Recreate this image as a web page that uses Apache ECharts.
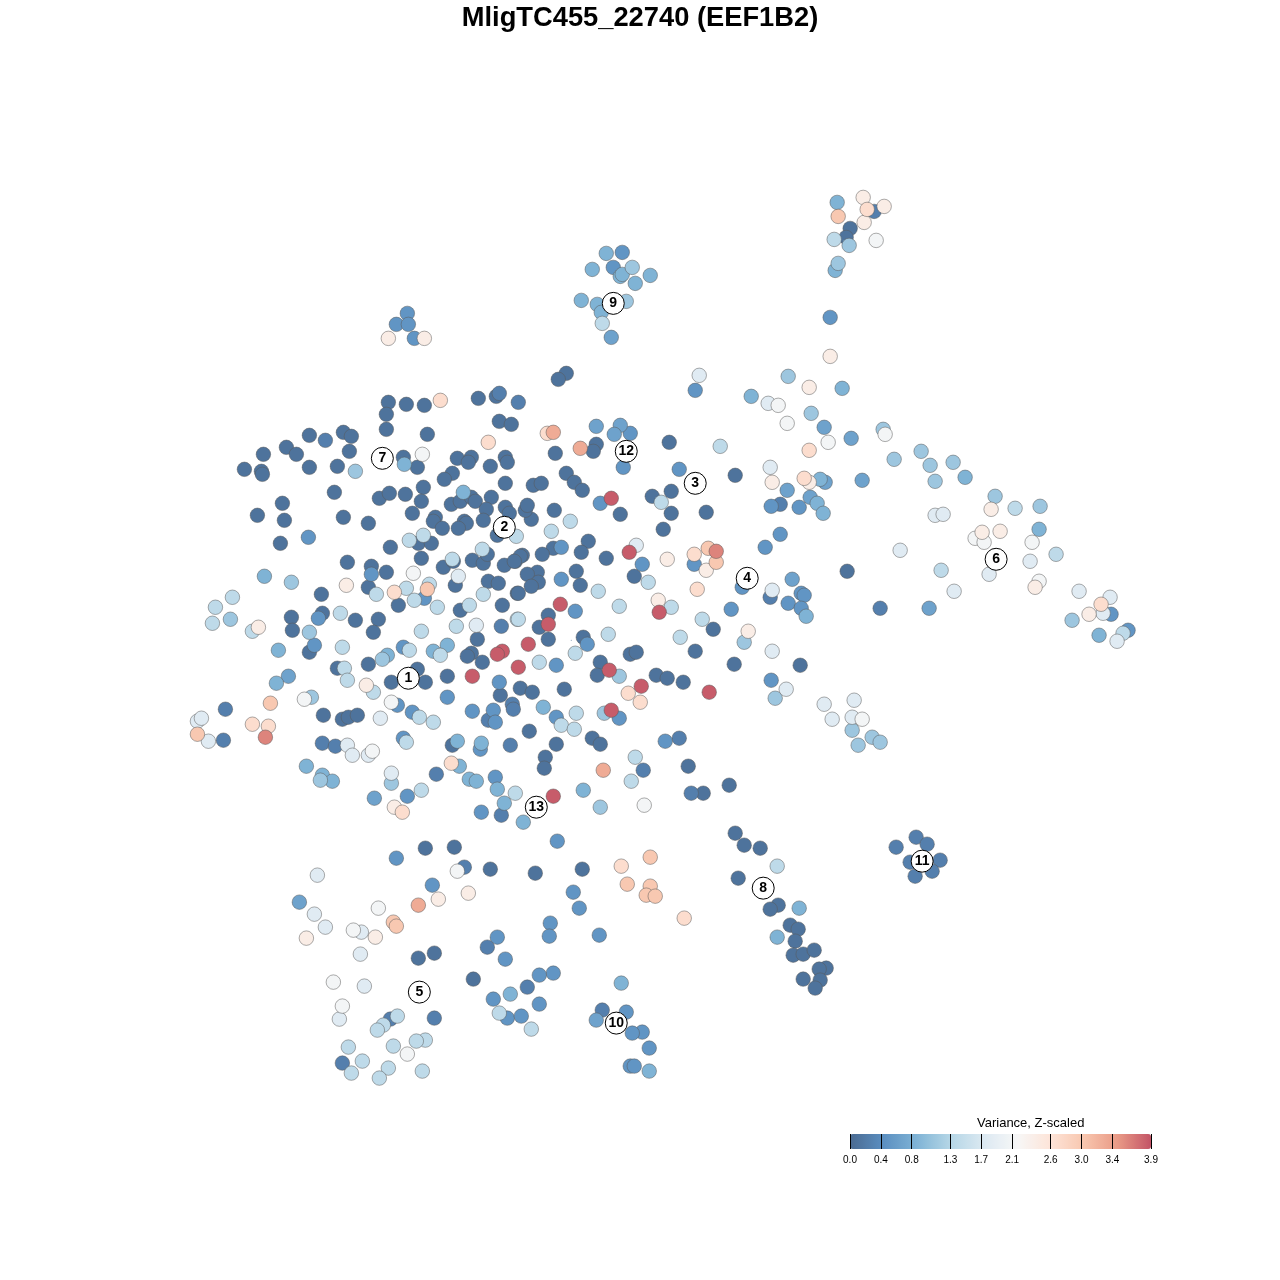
<!DOCTYPE html>
<html><head><meta charset="utf-8">
<style>html,body{margin:0;padding:0;background:#fff}#c{width:1280px;height:1280px}</style>
<script src="https://cdn.jsdelivr.net/npm/echarts@6/dist/echarts.min.js"></script>
</head><body><div id="c"></div>
<script>
const titleText = "MligTC455_22740 (EEF1B2)";
const legendTitle = "Variance, Z-scaled";
const legendTicks = [0, 0.4, 0.8, 1.3, 1.7, 2.1, 2.6, 3.0, 3.4, 3.9];
const rampColors = ['#4a6a91','#5b8fc1','#80b4d6','#b5d6e6','#dce9f2','#f7f7f7','#fde4d8','#f8c6ae','#e99a86','#c35466'];
// cells, flat x,y pairs per variance level
const level010 = [388,402,406,404,424,405,478,398,386,414,386,429,427,434,499,421,511,424,309,435,343,432,351,436,286,447,296,454,263,454,244,469,261,471,262,474,309,467,337,466,349,451,403,457,417,467,457,458,471,457,468,462,490,466,505,457,507,462,452,473,444,479,505,483,334,492,282,503,257,515,284,520,343,517,368,523,280,543,379,498,389,493,405,494,423,487,421,501,412,513,435,517,433,521,442,528,451,504,460,501,471,497,475,501,491,497,486,509,483,520,505,507,509,513,464,521,466,523,458,528,497,535,390,547,421,558,418,543,431,543,347,562,371,566,386,572,368,587,443,567,453,561,472,560,483,563,487,554,504,565,515,561,522,555,488,581,498,583,455,585,398,605,460,610,502,605,517,593,321,594,322,613,291,617,292,630,355,620,378,619,373,632,477,639,471,653,467,656,482,662,309,652,337,668,368,664,417,669,391,682,425,682,447,676,496,396,555,453,596,444,593,451,669,442,735,475,533,485,541,483,566,473,574,482,582,490,652,496,671,491,620,514,671,513,706,512,554,510,531,519,525,510,527,505,663,529,588,541,581,552,553,548,542,554,606,558,520,556,514,561,634,576,713,629,695,651,734,664,576,571,580,585,537,572,527,574,538,582,531,586,518,593,548,615,539,627,548,639,583,637,630,654,636,652,600,662,597,675,656,675,667,678,683,682,500,695,520,688,532,692,564,689,323,715,342,719,348,717,357,715,529,731,556,744,545,757,544,768,592,738,600,744,452,745,688,766,703,793,729,785,800,665,735,833,744,845,760,848,738,878,778,905,770,909,566,373,558,379,850,228,846,237,847,571,425,848,454,847,490,869,535,873,582,869,434,953,418,958,473,979,790,925,798,929,795,941,793,955,803,954,814,950,826,968,819,969,803,979,820,980,815,988];
const level025 = [325,440,499,393,518,402,501,626,436,774,322,743,335,746,510,745,488,720,512,704,513,709,225,709,223,740,691,793,679,738,643,770,874,211,780,504,770,597,880,608,464,867,487,947,527,987,602,1010,434,1018,390,1019,342,1063,916,837,927,844,896,847,940,860,910,862,932,871,915,876,501,815];
const level050 = [308,537,371,574,318,618,314,645,403,647,424,598,623,467,600,503,561,547,694,564,642,564,561,579,575,611,587,644,556,665,499,682,447,697,397,705,412,712,472,711,493,710,495,722,556,717,619,718,403,738,480,749,665,741,495,777,407,796,481,812,771,680,742,587,731,609,695,390,830,317,407,313,396,324,408,324,414,338,771,506,799,507,780,534,765,547,788,603,801,593,804,595,801,608,1111,614,1128,630,396,858,557,841,432,885,573,892,579,908,550,923,549,936,497,937,505,959,553,973,539,975,493,999,539,1004,507,1018,521,1016,626,1012,599,935,642,1032,632,1033,649,1048,630,1066,634,1066,622,252,613,267,630,433,679,469];
const level065 = [596,426,620,425,614,434,288,676,374,798,611,337,787,490,810,497,851,438,824,427,825,482,862,480,792,579,929,608,299,902,596,1020];
const level085 = [463,492,404,464,264,576,278,650,276,683,387,655,433,651,447,645,543,707,306,766,322,775,332,781,469,779,476,781,459,766,457,741,481,743,497,789,583,790,504,803,523,822,837,202,606,253,592,269,620,276,622,274,635,283,650,275,581,300,597,304,601,312,835,270,842,388,751,396,817,503,823,513,820,479,806,616,965,477,1039,529,1099,635,621,983,649,1071,777,937,799,908,510,994];
const level110 = [355,471,291,582,230,619,309,632,382,659,311,697,320,780,391,783,619,676,744,642,775,698,852,730,872,737,880,742,858,745,604,713,600,807,632,267,626,301,849,245,838,263,788,376,811,413,883,429,894,459,921,451,930,465,953,462,935,481,1040,506,995,496,1072,620];
const level140 = [409,540,423,535,482,549,452,559,516,536,232,597,215,607,212,623,252,631,340,613,342,647,376,594,406,588,429,584,414,600,437,607,469,605,483,594,421,631,456,626,517,619,409,650,440,655,344,668,347,680,373,692,419,717,433,722,406,742,561,725,574,729,576,713,539,662,575,653,518,619,608,634,570,521,551,531,661,502,720,446,598,591,648,582,671,607,619,606,680,637,702,619,635,757,631,781,421,790,515,793,777,866,602,323,834,239,1015,508,1056,554,941,570,499,1013,531,1029,397,1016,383,1025,377,1030,425,1040,416,1041,348,1047,393,1046,362,1061,351,1073,388,1068,379,1078,422,1071,1123,633];
const level180 = [197,721,201,718,208,741,380,718,347,745,352,755,368,755,391,773,458,576,476,625,636,545,699,375,768,403,770,467,772,651,786,689,824,704,854,700,832,719,852,717,772,590,900,550,935,515,943,514,1030,561,989,574,954,591,1079,591,1110,597,1103,613,1117,641,314,914,325,927,361,932,360,954,364,986,339,1019,317,875];
const level210 = [422,454,413,573,304,699,391,702,372,751,644,805,778,405,787,423,828,442,885,434,862,719,975,538,984,542,1032,542,1039,581,457,871,378,908,353,930,333,982,342,1006,407,1054,876,240];
const level240 = [346,585,258,627,366,685,394,807,667,559,706,570,658,600,748,631,830,356,863,197,884,206,864,222,388,338,424,338,809,387,772,482,809,482,991,509,1000,531,982,532,1035,587,1089,614,468,893,438,899,306,938,375,937];
const level270 = [440,400,488,442,394,592,451,763,402,812,547,433,694,554,697,589,628,693,640,702,252,724,268,726,621,866,684,918,867,209,809,450,804,478,1101,604];
const level300 = [427,589,197,734,708,548,716,562,270,703,650,857,627,884,650,886,646,895,655,896,838,216,393,922,396,926];
const level330 = [553,432,580,448,603,770,418,905];
const level360 = [716,551,265,737];
const level385 = [472,676,502,651,497,654,518,667,611,498,629,552,659,612,560,604,548,624,528,644,609,670,641,686,709,692,611,710,553,796];
const clusterIds = ['1','2','3','4','5','6','7','8','9','10','11','12','13'];
const clusterXs = [408,504,695,747,419,996,382,763,613,616,922,626,536];
const clusterYs = [678,527,483,578,992,559,458,888,303,1023,861,451,807];
const specks = [[571,640]];

const levels = [[0.10,level010],[0.25,level025],[0.50,level050],[0.65,level065],[0.85,level085],[1.10,level110],[1.40,level140],[1.80,level180],[2.10,level210],[2.40,level240],[2.70,level270],[3.00,level300],[3.30,level330],[3.60,level360],[3.85,level385]];
const cells = [];
levels.forEach(([v, arr]) => { for (let i = 0; i < arr.length; i += 2) cells.push([arr[i], arr[i + 1], v]); });
const clusters = clusterIds.map((id, i) => ({ value: [clusterXs[i], clusterYs[i]], name: id }));

const font = '"Liberation Sans", Arial, sans-serif';
const chart = echarts.init(document.getElementById('c'), null, { renderer: 'canvas' });
chart.setOption({
  animation: false,
  backgroundColor: '#fff',
  title: [
    { text: titleText, left: 'center', top: 5, padding: 0, textStyle: { fontFamily: font, fontSize: 27.3, fontWeight: 'bold', color: '#000' } },
    { text: legendTitle, left: 977, top: 1117, padding: 0, textStyle: { fontFamily: font, fontSize: 13, fontWeight: 'normal', color: '#000' } }
  ],
  grid: [
    { left: 0.5, top: 0.5, width: 1280, height: 1280 },
    { left: 850, top: 1134, width: 301, height: 15 }
  ],
  xAxis: [
    { type: 'value', gridIndex: 0, min: 0, max: 1280, show: false },
    { type: 'value', gridIndex: 1, min: 0, max: 3.9, position: 'bottom', z: 20, splitLine: { show: false },
      axisLine: { show: false },
      axisTick: { show: true, inside: true, length: 15, customValues: legendTicks, lineStyle: { color: '#000', width: 1 } },
      axisLabel: { show: true, customValues: legendTicks, margin: 6, fontFamily: font, fontSize: 10, color: '#000', hideOverlap: false, alignMinLabel: 'center', alignMaxLabel: 'center', formatter: v => v.toFixed(1) } }
  ],
  yAxis: [
    { type: 'value', gridIndex: 0, min: 0, max: 1280, inverse: true, show: false },
    { type: 'value', gridIndex: 1, min: 0, max: 1, show: false }
  ],
  visualMap: {
    type: 'continuous', min: 0, max: 3.9, dimension: 2, seriesIndex: 0, orient: 'horizontal',
    left: 850, top: 1134, padding: 0, itemWidth: 15, itemHeight: 301, text: null, calculable: false, hoverLink: false,
    showLabel: false, inRange: { color: rampColors }, textStyle: { fontSize: 0 }, z: 4
  },
  series: [
    { type: 'scatter', xAxisIndex: 0, yAxisIndex: 0, data: cells, symbolSize: 14.5, silent: true, z: 2,
      itemStyle: { borderColor: 'rgba(90,90,90,0.5)', borderWidth: 1, opacity: 1 } },
    { type: 'scatter', xAxisIndex: 0, yAxisIndex: 0, data: clusters, symbolSize: 22, silent: true, z: 5,
      itemStyle: { color: '#fff', borderColor: '#000', borderWidth: 1, opacity: 1 },
      label: { show: true, position: 'inside', formatter: p => p.name, color: '#000', fontFamily: font, fontSize: 14, fontWeight: 'bold' } },
    { type: 'scatter', xAxisIndex: 0, yAxisIndex: 0, data: specks, symbolSize: 1, silent: true, z: 1,
      itemStyle: { color: '#4a6a91' } }
  ]
});
</script></body></html>
